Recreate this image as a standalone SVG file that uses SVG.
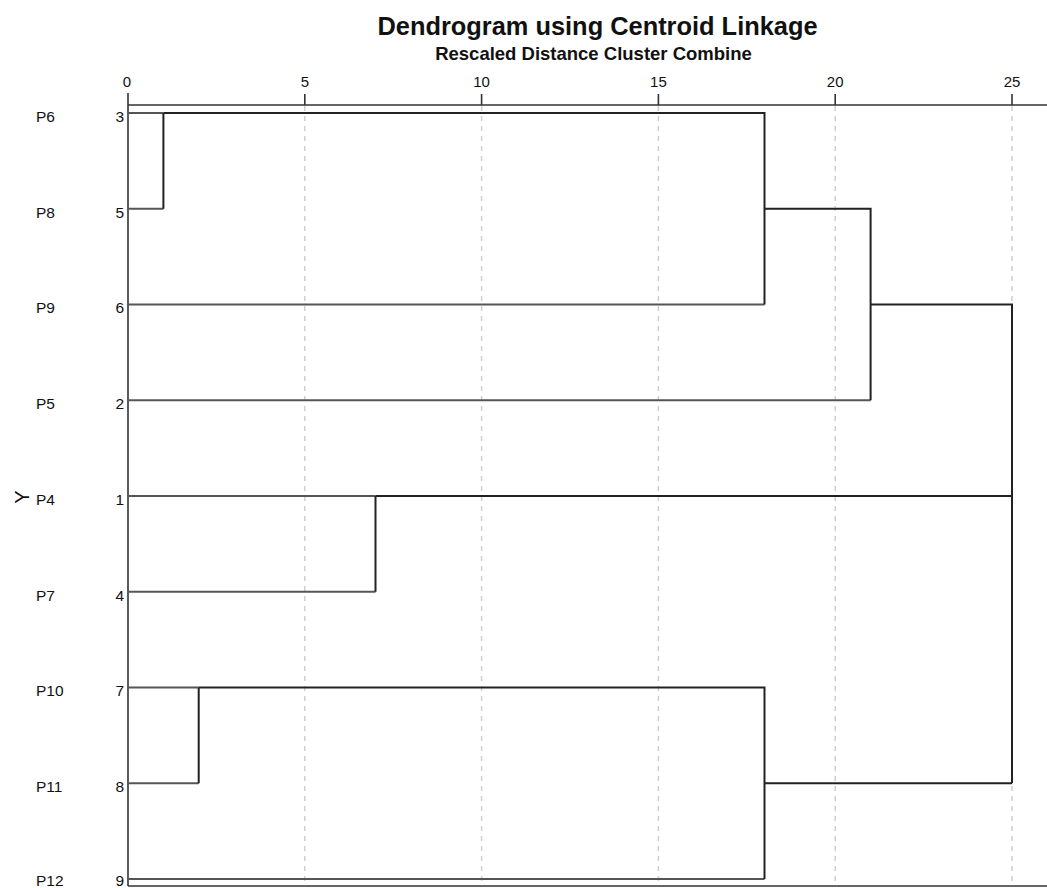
<svg xmlns="http://www.w3.org/2000/svg" width="1047" height="888" viewBox="0 0 1047 888">
<style>
text{font-family:"Liberation Sans",Arial,sans-serif;fill:#111}
.title{font-size:25.4px;font-weight:bold}
.sub{font-size:18.5px;font-weight:bold}
.tick{font-size:15px;text-anchor:middle}
.lab{font-size:15.5px}
.num{font-size:15.5px;text-anchor:end}
.grid{stroke:#cfcfcf;stroke-width:1.5;stroke-dasharray:5 5;fill:none}
.axis{stroke:#333;stroke-width:1.6;fill:none}
.leaf{stroke:#555;stroke-width:2;fill:none}
.link{stroke:#222;stroke-width:2;fill:none}
</style>
<rect width="1047" height="888" fill="#fff"/>
<g id="title">
<text class="title" x="597.5" y="35" text-anchor="middle">Dendrogram using Centroid Linkage</text>
<text class="sub" x="593.5" y="60" text-anchor="middle">Rescaled Distance Cluster Combine</text>
</g>
<g id="grid">
<line class="grid" x1="304.8" y1="106" x2="304.8" y2="885"/>
<line class="grid" x1="481.6" y1="106" x2="481.6" y2="885"/>
<line class="grid" x1="658.4" y1="106" x2="658.4" y2="885"/>
<line class="grid" x1="835.2" y1="106" x2="835.2" y2="885"/>
<line class="grid" x1="1012" y1="106" x2="1012" y2="885"/>
</g>
<g id="axis">
<line class="axis" x1="128" y1="105" x2="1047" y2="105"/>
<line class="axis" x1="128" y1="93" x2="128" y2="886"/>
<line class="axis" x1="128" y1="886" x2="1047" y2="886"/>
<path class="axis" d="M304.8 94V105M481.6 94V105M658.4 94V105M835.2 94V105M1012 94V105"/>
<text class="tick" x="127" y="87">0</text>
<text class="tick" x="304.8" y="87">5</text>
<text class="tick" x="481.6" y="87">10</text>
<text class="tick" x="658.4" y="87">15</text>
<text class="tick" x="835.2" y="87">20</text>
<text class="tick" x="1012" y="87">25</text>
<text transform="translate(29 497) rotate(-90)" text-anchor="middle" style="font-size:20px">Y</text>
</g>
<g id="node-P6"><text class="lab" x="36" y="121.5">P6</text><text class="num" x="124" y="121.5">3</text></g>
<g id="node-P8"><text class="lab" x="36" y="217.5">P8</text><text class="num" x="124" y="217.5">5</text></g>
<g id="node-P9"><text class="lab" x="36" y="313">P9</text><text class="num" x="124" y="313">6</text></g>
<g id="node-P5"><text class="lab" x="36" y="409">P5</text><text class="num" x="124" y="409">2</text></g>
<g id="node-P4"><text class="lab" x="36" y="504.5">P4</text><text class="num" x="124" y="504.5">1</text></g>
<g id="node-P7"><text class="lab" x="36" y="600.5">P7</text><text class="num" x="124" y="600.5">4</text></g>
<g id="node-P10"><text class="lab" x="36" y="696">P10</text><text class="num" x="124" y="696">7</text></g>
<g id="node-P11"><text class="lab" x="36" y="792">P11</text><text class="num" x="124" y="792">8</text></g>
<g id="node-P12"><text class="lab" x="36" y="886">P12</text><text class="num" x="124" y="886">9</text></g>
<g id="connectors">
<path class="leaf" d="M128 113H163.4M128 208.75H163.4M128 304.5H764.5M128 400.25H870.6M128 496H375.5M128 591.75H375.5M128 687.5H198.7M128 783.25H198.7M128 879H764.5"/>
<path class="link" d="M163.4 113V208.75M163.4 113H764.5V304.5M764.5 208.75H870.6V400.25M870.6 304.5H1012V783.25M375.5 496H1012M375.5 496V591.75M198.7 687.5V783.25M198.7 687.5H764.5V879M764.5 783.25H1012"/>
</g>
</svg>
